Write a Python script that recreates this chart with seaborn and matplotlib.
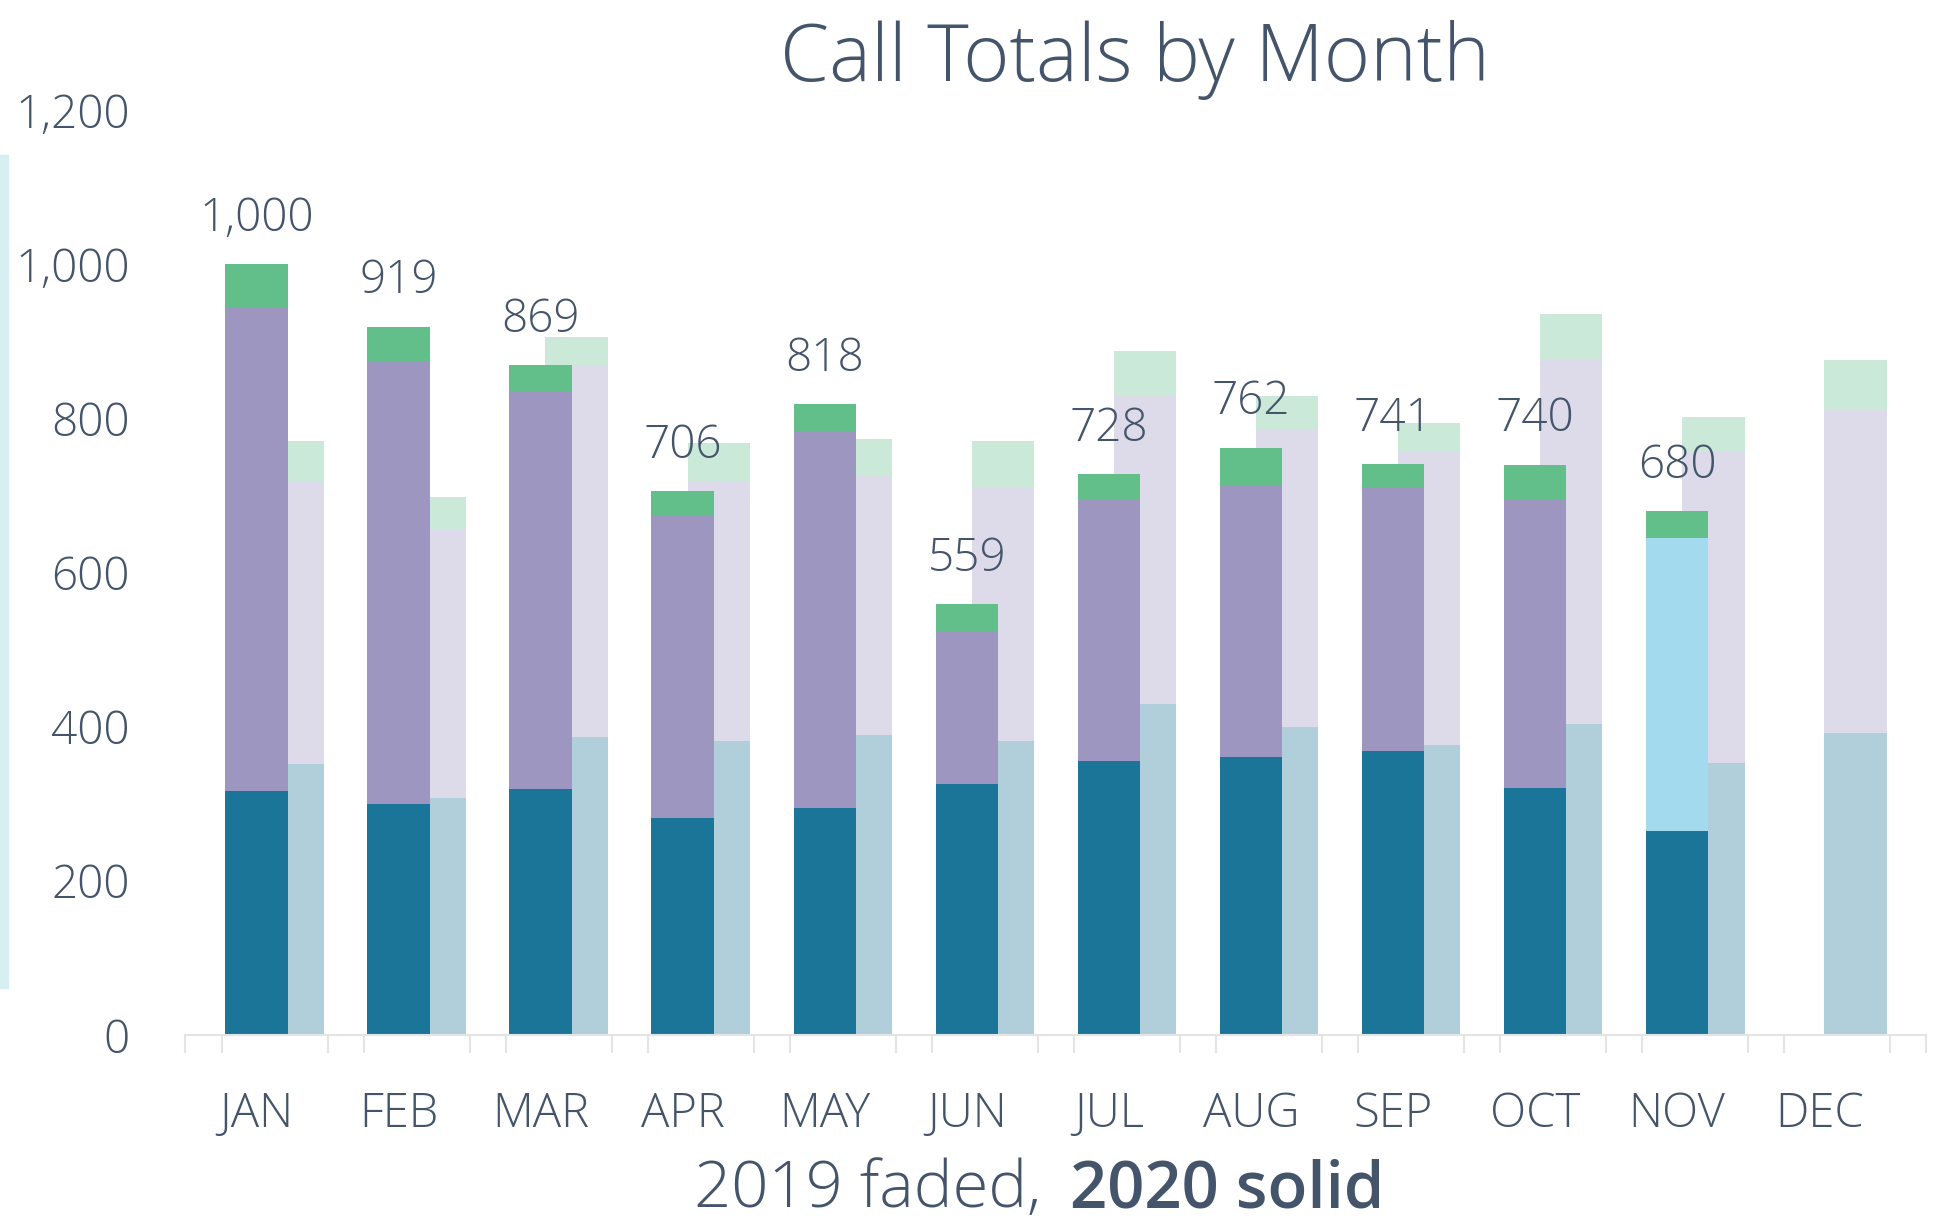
import numpy as np
import pandas as pd
import seaborn as sns
import matplotlib.pyplot as plt
from matplotlib.patches import Rectangle

# ----------------------------
# Data
# ----------------------------
months = ["JAN", "FEB", "MAR", "APR", "MAY", "JUN", "JUL", "AUG", "SEP", "OCT", "NOV", "DEC"]

# 2020 solid bars: bottom / middle / top segments (no DEC yet)
base_2020 = [316, 300, 319, 282, 294, 326, 356, 361, 369, 321, 265, np.nan]
mid_2020 = [629, 574, 515, 391, 490, 197, 339, 352, 341, 374, 380, np.nan]
top_2020 = [55, 45, 35, 33, 34, 36, 33, 49, 31, 45, 35, np.nan]

# 2019 faded bars
base_2019 = [352, 308, 387, 382, 389, 382, 429, 400, 376, 403, 353, 392]
mid_2019 = [367, 347, 481, 337, 337, 328, 400, 385, 382, 473, 403, 419]
top_2019 = [52, 43, 37, 49, 47, 61, 58, 44, 36, 59, 46, 65]

yticks = [0, 200, 400, 600, 800, 1000, 1200]

# ----------------------------
# Style
# ----------------------------
text_col = "#44546a"
teal, purple, green, sky = "#1b7599", "#9d96c1", "#63bf8a", "#a3daed"
teal_f, purple_f, green_f = "#b0cfdb", "#dddbea", "#cbe9d8"
axis_col = "#e4e4e4"
offset_2019 = 0.254
bar_w = 0.44

sns.set_style("white")
plt.rcParams["font.family"] = ["Open Sans", "DejaVu Sans"]
plt.rcParams["font.weight"] = "light"

df20 = pd.DataFrame({"month": months, "x": np.arange(12),
                     "base": base_2020, "mid": mid_2020, "top": top_2020})
df20["lvl2"] = df20["base"] + df20["mid"]
df20["total"] = df20["lvl2"] + df20["top"]

df19 = pd.DataFrame({"month": months, "x": np.arange(12) + offset_2019,
                     "base": base_2019, "mid": mid_2019, "top": top_2019})
df19["lvl2"] = df19["base"] + df19["mid"]
df19["total"] = df19["lvl2"] + df19["top"]

mid_colors = {m: (sky if m == "NOV" else purple) for m in months}

fig = plt.figure(figsize=(19.48, 12.24), dpi=100)
ax = fig.add_axes([0.0952, 0.1544, 0.8937, 0.7557])

# 2019 faded (behind)
for col, c in [("total", green_f), ("lvl2", purple_f), ("base", teal_f)]:
    sns.barplot(data=df19, x="x", y=col, native_scale=True, width=bar_w,
                color=c, linewidth=0, saturation=1, ax=ax)

# 2020 solid
sns.barplot(data=df20, x="x", y="total", native_scale=True, width=bar_w,
            color=green, linewidth=0, saturation=1, ax=ax)
total_bars = ax.containers[-1]
sns.barplot(data=df20, x="x", y="lvl2", hue="month", palette=mid_colors,
            native_scale=True, width=bar_w, linewidth=0, saturation=1,
            legend=False, ax=ax)
sns.barplot(data=df20, x="x", y="base", native_scale=True, width=bar_w,
            color=teal, linewidth=0, saturation=1, ax=ax)

ax.bar_label(total_bars, fmt="{:,.0f}", padding=16, fontsize=33,
             color=text_col, fontweight="light")

# ----------------------------
# Axes
# ----------------------------
ax.set_xlim(-0.5, 11.5 + offset_2019)
ax.set_ylim(0, 1200)
ax.set_xticks(np.arange(12))
ax.set_xticklabels(months)
bounds = np.arange(13) - 0.5
ax.set_xticks(np.concatenate([bounds, bounds + offset_2019]), minor=True)
ax.set_yticks(yticks)
ax.set_yticklabels([f"{v:,}" for v in yticks])
ax.tick_params(axis="x", which="major", bottom=True, length=0, pad=40,
               labelsize=34, labelcolor=text_col)
ax.tick_params(axis="x", which="minor", bottom=True, length=13, width=1.5,
               color=axis_col)
ax.tick_params(axis="y", length=0, pad=40, labelsize=33, labelcolor=text_col)
for lab in ax.get_xticklabels() + ax.get_yticklabels():
    lab.set_fontweight("light")
ax.set_xlabel("")
ax.set_ylabel("")
for s in ["top", "right", "left"]:
    ax.spines[s].set_visible(False)
ax.spines["bottom"].set_color(axis_col)
ax.spines["bottom"].set_linewidth(1.5)

# title and two-part caption
fig.text(0.5826, 1 - 81 / 1224, "Call Totals by Month", ha="center", va="baseline",
         fontsize=57, color=text_col, fontweight="light")
fig.text(1041 / 1948, 1 - 1207 / 1224, "2019 faded,", ha="right", va="baseline",
         fontsize=47, color=text_col, fontweight="light")
fig.text(1070 / 1948, 1 - 1207 / 1224, "2020 solid", ha="left", va="baseline",
         fontsize=47, color=text_col, fontweight="semibold")

# thin cyan strip at the left edge
fig.patches.append(Rectangle((0, 1 - 988 / 1224), 8 / 1948, (988 - 155) / 1224,
                             transform=fig.transFigure, color="#d5eff3", zorder=0))

fig.savefig("out.png", dpi=100)
plt.close()
